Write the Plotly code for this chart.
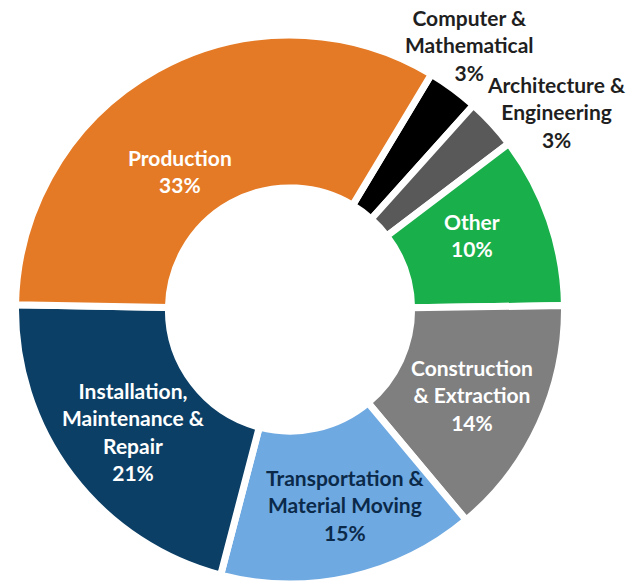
import plotly.graph_objects as go

categories = [
    "Computer &<br>Mathematical",
    "Architecture &<br>Engineering",
    "Other",
    "Construction<br>& Extraction",
    "Transportation &<br>Material Moving",
    "Installation,<br>Maintenance &<br>Repair",
    "Production",
]
shares = [3, 3, 10, 14, 15, 21, 33]
colors = ["#000000", "#595959", "#19AF4B", "#7F7F7F", "#6FA9E1", "#0B3F66", "#E47A25"]
text_colors = ["#1F1F1F", "#1F1F1F", "#FFFFFF", "#FFFFFF", "#0B2A4A", "#FFFFFF", "#FFFFFF"]

W, H = 635, 584
FONT = "Lato"

fig = go.Figure(
    go.Pie(
        labels=categories,
        values=shares,
        textinfo="none",
        marker=dict(colors=colors, line=dict(color="white", width=7)),
        hole=0.443,
        sort=False,
        direction="clockwise",
        rotation=31,
        domain=dict(x=[15.5 / W, 564.5 / W], y=[0.0, 549 / H]),
        hoverinfo="label+percent",
        showlegend=False,
    )
)

# Data labels (pixel centre of each text block)
label_pos = [
    (469, 45),   # Computer & Mathematical
    (556, 112),  # Architecture & Engineering
    (472, 235),  # Other
    (472, 395),  # Construction & Extraction
    (345, 505),  # Transportation & Material Moving
    (133, 431),  # Installation, Maintenance & Repair
    (180, 171),  # Production
]
for (px, py), c, v, tc in zip(label_pos, categories, shares, text_colors):
    fig.add_annotation(
        x=px / W, y=1 - py / H, xref="paper", yref="paper",
        xanchor="center", yanchor="middle",
        text=f"<b>{c}<br>{v}%</b>", showarrow=False,
        font=dict(family=FONT, size=21, color=tc), align="center",
    )

fig.update_layout(
    width=W, height=H,
    margin=dict(l=0, r=0, t=0, b=0),
    paper_bgcolor="white", plot_bgcolor="white",
)

fig.write_html("out.html")
